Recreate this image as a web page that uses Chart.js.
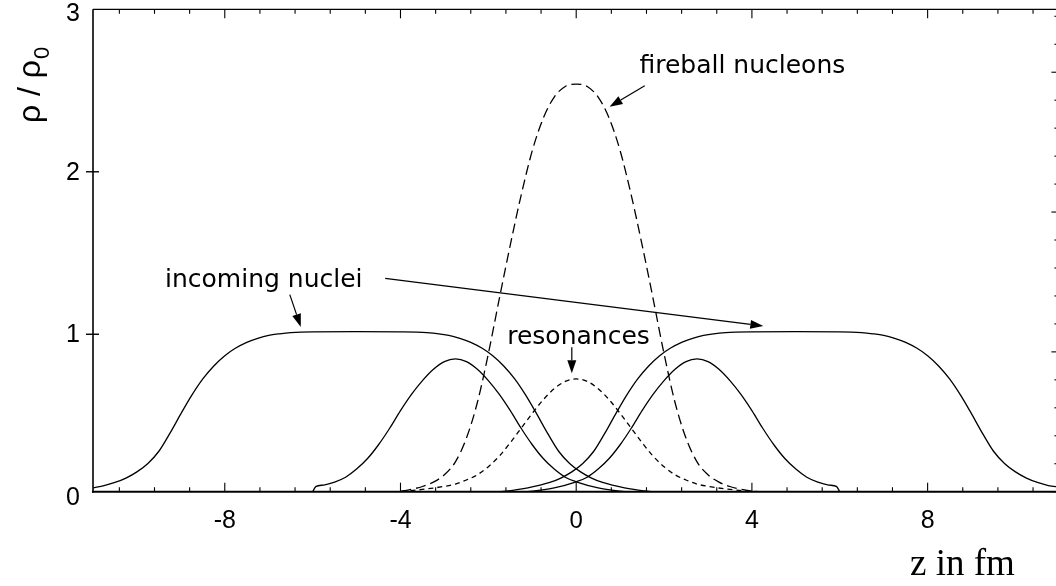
<!DOCTYPE html>
<html>
<head>
<meta charset="utf-8">
<script src="https://cdn.jsdelivr.net/npm/chart.js@4.4.1/dist/chart.umd.min.js"></script>
<style>
  html, body { margin: 0; padding: 0; overflow: hidden; background: #fff; width: 1056px; height: 586px; }
  #wrap { position: relative; width: 1060px; height: 586px; }
</style>
</head>
<body>
<div id="wrap"><canvas id="c" width="1060" height="586"></canvas></div>
<script>
// Density along the beam axis z (fm), in units of normal nuclear density rho_0.

// incoming nucleus coming from the left
const nucleusLeftZ   = [-11, -10.75, -10.5, -10.25, -10, -9.75, -9.5, -9.25, -9, -8.75, -8.5, -8.25, -8, -7.75, -7.5, -7.25, -7, -6.75, -6.5, -6, -5, -4, -3.4, -2.9, -2.65, -2.4, -2.15, -1.9, -1.65, -1.4, -1.15, -0.9, -0.65, -0.4, -0.15, 0.1, 0.35, 0.6, 1.1, 1.6, 2.1, 3.1];
const nucleusLeftRho = [0.055, 0.069, 0.088, 0.115, 0.153, 0.205, 0.28, 0.39, 0.51, 0.625, 0.725, 0.805, 0.868, 0.915, 0.95, 0.975, 0.993, 1.003, 1.01, 1.015, 1.016, 1.015, 1.01, 0.993, 0.975, 0.95, 0.915, 0.868, 0.805, 0.725, 0.625, 0.51, 0.39, 0.28, 0.205, 0.153, 0.115, 0.088, 0.055, 0.035, 0.022, 0.008];

// incoming nucleus coming from the right
const nucleusRightZ   = [-3.1, -2.1, -1.6, -1.1, -0.6, -0.35, -0.1, 0.15, 0.4, 0.65, 0.9, 1.15, 1.4, 1.65, 1.9, 2.15, 2.4, 2.65, 2.9, 3.4, 4, 5, 6, 6.5, 6.75, 7, 7.25, 7.5, 7.75, 8, 8.25, 8.5, 8.75, 9, 9.25, 9.5, 9.75, 10, 10.25, 10.5, 10.75, 11];
const nucleusRightRho = [0.008, 0.022, 0.035, 0.055, 0.088, 0.115, 0.153, 0.205, 0.28, 0.39, 0.51, 0.625, 0.725, 0.805, 0.868, 0.915, 0.95, 0.975, 0.993, 1.01, 1.015, 1.016, 1.015, 1.01, 1.003, 0.993, 0.975, 0.95, 0.915, 0.868, 0.805, 0.725, 0.625, 0.51, 0.39, 0.28, 0.205, 0.153, 0.115, 0.088, 0.069, 0.06];

// compressed nuclear matter, left side
const bellLeftZ   = [-6.0, -5.93, -5.75, -5.5, -5.25, -5, -4.75, -4.5, -4.25, -4, -3.75, -3.5, -3.25, -3, -2.75, -2.5, -2.25, -2, -1.75, -1.5, -1.25, -1, -0.75, -0.5, -0.25, 0, 0.5, 1, 1.5, 2, 3];
const bellLeftRho = [0.03, 0.062, 0.072, 0.09, 0.12, 0.17, 0.235, 0.32, 0.42, 0.53, 0.63, 0.715, 0.785, 0.832, 0.848, 0.832, 0.785, 0.715, 0.63, 0.53, 0.42, 0.32, 0.235, 0.17, 0.12, 0.092, 0.055, 0.035, 0.022, 0.014, 0.005];

// compressed nuclear matter, right side
const bellRightZ   = [-3, -2, -1.5, -1, -0.5, 0, 0.25, 0.5, 0.75, 1, 1.25, 1.5, 1.75, 2, 2.25, 2.5, 2.75, 3, 3.25, 3.5, 3.75, 4, 4.25, 4.5, 4.75, 5, 5.25, 5.5, 5.75, 5.93, 6.0];
const bellRightRho = [0.005, 0.014, 0.022, 0.035, 0.055, 0.092, 0.12, 0.17, 0.235, 0.32, 0.42, 0.53, 0.63, 0.715, 0.785, 0.832, 0.848, 0.832, 0.785, 0.715, 0.63, 0.53, 0.42, 0.32, 0.235, 0.17, 0.12, 0.09, 0.072, 0.062, 0.03];

// fireball nucleons
const fireballZ   = [-5, -4.5, -4, -3.75, -3.5, -3.25, -3, -2.75, -2.5, -2.25, -2, -1.75, -1.5, -1.25, -1, -0.75, -0.5, -0.25, 0, 0.25, 0.5, 0.75, 1, 1.25, 1.5, 1.75, 2, 2.25, 2.5, 2.75, 3, 3.25, 3.5, 3.75, 4, 4.5, 5];
const fireballRho = [0.008, 0.017, 0.034, 0.046, 0.063, 0.09, 0.135, 0.215, 0.36, 0.58, 0.88, 1.22, 1.55, 1.86, 2.13, 2.33, 2.46, 2.525, 2.54, 2.525, 2.46, 2.33, 2.13, 1.86, 1.55, 1.22, 0.88, 0.58, 0.36, 0.215, 0.135, 0.09, 0.063, 0.046, 0.034, 0.017, 0.008];

// resonances
const resonanceZ   = [-5, -4.5, -4, -3.5, -3, -2.75, -2.5, -2.25, -2, -1.75, -1.5, -1.25, -1, -0.75, -0.5, -0.25, 0, 0.25, 0.5, 0.75, 1, 1.25, 1.5, 1.75, 2, 2.25, 2.5, 2.75, 3, 3.5, 4, 4.5, 5];
const resonanceRho = [0.02, 0.027, 0.033, 0.045, 0.064, 0.078, 0.103, 0.135, 0.185, 0.25, 0.333, 0.423, 0.513, 0.597, 0.665, 0.71, 0.725, 0.71, 0.665, 0.597, 0.513, 0.423, 0.333, 0.25, 0.185, 0.135, 0.103, 0.078, 0.064, 0.045, 0.033, 0.027, 0.02];

// axis ticks
const xMajorTicks = [-8, -4, 0, 4, 8];
const xTickLabels = ['-8', '-4', '0', '4', '8'];
const xMinorStep = 0.8;
const yMajorTicks = [0, 1, 2, 3];
const yTickLabels = ['0', '1', '2', '3'];
const rightMinorStep = 0.2;

// labels with arrows (z, rho)
const notes = [
  { text: 'fireball nucleons', at: [1.44, 2.61] },
  { text: 'incoming nuclei',   at: [-9.36, 1.293] },
  { text: 'resonances',        at: [-1.57, 0.938] }
];
const arrows = [
  [1.56, 2.53, 0.76, 2.40],
  [-6.52, 1.244, -6.27, 1.045],
  [-4.35, 1.344, 4.26, 1.051],
  [-0.10, 0.92, -0.10, 0.76]
];

const pts = (zs, rs) => zs.map((z, i) => ({ x: z, y: rs[i] }));

const solid = { borderColor: '#000', borderWidth: 1.3, pointRadius: 0, fill: false, cubicInterpolationMode: 'monotone' };

const datasets = [
  Object.assign({ label: 'incoming nuclei (left)',  data: pts(nucleusLeftZ, nucleusLeftRho) }, solid),
  Object.assign({ label: 'incoming nuclei (right)', data: pts(nucleusRightZ, nucleusRightRho) }, solid),
  Object.assign({ label: 'compressed (left)',  data: pts(bellLeftZ, bellLeftRho) }, solid),
  Object.assign({ label: 'compressed (right)', data: pts(bellRightZ, bellRightRho) }, solid),
  Object.assign({ label: 'fireball nucleons', data: pts(fireballZ, fireballRho), borderDash: [10, 5] }, solid),
  Object.assign({ label: 'resonances', data: pts(resonanceZ, resonanceRho), borderDash: [5, 4] }, solid)
];

const frameAndNotes = {
  id: 'frameAndNotes',
  afterDatasetsDraw(chart) {
    const { ctx, chartArea: a, scales } = chart;
    const sx = scales.x, sy = scales.y, sr = scales.y2;
    ctx.save();
    ctx.strokeStyle = '#000';
    ctx.fillStyle = '#000';
    const seg = (x1, y1, x2, y2, w) => {
      ctx.lineWidth = w;
      ctx.beginPath(); ctx.moveTo(x1, y1); ctx.lineTo(x2, y2); ctx.stroke();
    };

    // frame
    seg(a.left, a.top, a.right, a.top, 1.2);
    seg(a.right, a.top, a.right, a.bottom, 1.2);
    seg(a.left, a.top, a.left, a.bottom + 1, 1.6);
    seg(a.left - 1, a.bottom, a.right, a.bottom, 2);

    // bottom and top ticks
    for (let k = -13; k <= 13; k++) {
      const v = k * xMinorStep;
      const px = sx.getPixelForValue(v);
      const major = xMajorTicks.some(t => Math.abs(t - v) < 1e-6);
      const len = major ? 9 : 4.5;
      seg(px, a.bottom, px, a.bottom - len, 1.1);
      seg(px, a.top, px, a.top + len, 1.1);
    }
    // left ticks
    yMajorTicks.forEach(v => {
      if (v > sy.min && v < sy.max) {
        const py = sy.getPixelForValue(v);
        seg(a.left - 7, py, a.left + 6, py, 1.4);
      }
    });
    // right-hand scale ticks
    for (let k = 0; k < 40; k++) {
      const v = k * rightMinorStep;
      if (v > sr.max) break;
      const py = sr.getPixelForValue(v);
      seg(a.right, py, a.right - (k % 5 === 0 ? 8 : 5), py, 1.1);
    }

    // tick labels
    ctx.textAlign = 'center';
    ctx.textBaseline = 'alphabetic';
    xMajorTicks.forEach((v, i) => {
      ctx.font = (v === 0 ? '24px' : '25px') + ' "Liberation Sans", Arial, sans-serif';
      ctx.fillText(xTickLabels[i], sx.getPixelForValue(v), 528);
    });
    ctx.textAlign = 'right';
    ctx.textBaseline = 'middle';
    ctx.font = '25px "Liberation Sans", Arial, sans-serif';
    yMajorTicks.forEach((v, i) => {
      let py = sy.getPixelForValue(v);
      if (v === 3) py += 4;
      ctx.fillText(yTickLabels[i], 80, py + 1);
    });

    // axis titles
    ctx.font = '37px "Liberation Serif", "Times New Roman", serif';
    ctx.textAlign = 'left';
    ctx.textBaseline = 'alphabetic';
    ctx.fillText('z in fm', 910, 575);

    ctx.save();
    ctx.translate(40, 123);
    ctx.rotate(-Math.PI / 2);
    ctx.font = '32px "Liberation Sans", Arial, sans-serif';
    ctx.fillText('ρ / ρ', 0, 0);
    const w = ctx.measureText('ρ / ρ').width;
    ctx.font = '22px "Liberation Sans", Arial, sans-serif';
    ctx.fillText('0', w + 1, 9);
    ctx.restore();

    // notes
    ctx.font = '25px "DejaVu Sans", sans-serif';
    ctx.textAlign = 'left';
    ctx.textBaseline = 'alphabetic';
    notes.forEach(n => ctx.fillText(n.text, sx.getPixelForValue(n.at[0]), sy.getPixelForValue(n.at[1])));

    arrows.forEach(([z1, r1, z2, r2]) => {
      const x1 = sx.getPixelForValue(z1), y1 = sy.getPixelForValue(r1);
      const x2 = sx.getPixelForValue(z2), y2 = sy.getPixelForValue(r2);
      const ang = Math.atan2(y2 - y1, x2 - x1);
      const L = 13, H = 4.5;
      const bx = x2 - L * Math.cos(ang), by = y2 - L * Math.sin(ang);
      seg(x1, y1, bx, by, 1.2);
      ctx.beginPath();
      ctx.moveTo(x2, y2);
      ctx.lineTo(bx + H * Math.sin(ang), by - H * Math.cos(ang));
      ctx.lineTo(bx - H * Math.sin(ang), by + H * Math.cos(ang));
      ctx.closePath();
      ctx.fill();
    });
    ctx.restore();
  }
};

new Chart(document.getElementById('c'), {
  type: 'line',
  data: { datasets },
  options: {
    responsive: false,
    devicePixelRatio: 1,
    animation: false,
    layout: { padding: { left: 93, top: 9.3, right: 0.6, bottom: 94.3 } },
    scales: {
      x: { type: 'linear', min: -11, max: 11, display: false },
      y: { type: 'linear', min: 0.031, max: 3, display: false },
      y2: { type: 'linear', min: 0, max: 3.45, display: false, position: 'right' }
    },
    plugins: { legend: { display: false }, tooltip: { enabled: false } }
  },
  plugins: [frameAndNotes]
});
</script>
</body>
</html>
